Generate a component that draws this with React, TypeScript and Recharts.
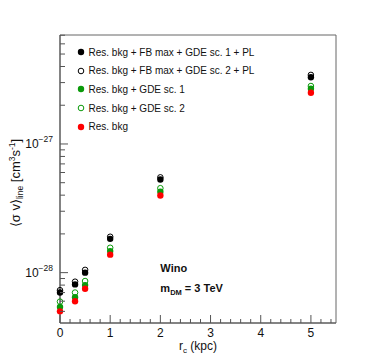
import React from "react";
import {
  ScatterChart,
  Scatter,
  XAxis,
  YAxis,
  ReferenceArea,
  ReferenceDot,
  Legend,
} from "recharts";

const rc = [0, 0.3, 0.5, 1, 2, 5];
const fbGde1PL = [7.0e-29, 8.1e-29, 1.0e-28, 1.83e-28, 5.3e-28, 3.3e-27];
const fbGde2PL = [7.3e-29, 8.5e-29, 1.05e-28, 1.9e-28, 5.5e-28, 3.44e-27];
const gde1 = [5.4e-29, 6.45e-29, 8.0e-29, 1.47e-28, 4.25e-28, 2.69e-27];
const gde2 = [5.95e-29, 7.0e-29, 8.6e-29, 1.56e-28, 4.53e-28, 2.82e-27];
const resBkg = [5.0e-29, 6.0e-29, 7.5e-29, 1.38e-28, 3.98e-28, 2.5e-27];

const seriesNames = [
  "Res. bkg + FB max + GDE sc. 1 + PL",
  "Res. bkg + FB max + GDE sc. 2 + PL",
  "Res. bkg + GDE sc. 1",
  "Res. bkg + GDE sc. 2",
  "Res. bkg",
];

const xTicks = [
  0, 0.2, 0.4, 0.6, 0.8, 1, 1.2, 1.4, 1.6, 1.8, 2, 2.2, 2.4, 2.6, 2.8, 3, 3.2,
  3.4, 3.6, 3.8, 4, 4.2, 4.4, 4.6, 4.8, 5, 5.2, 5.4,
];
const yTicks = [
  5e-29, 6e-29, 7e-29, 8e-29, 9e-29, 1e-28, 2e-28, 3e-28, 4e-28, 5e-28, 6e-28,
  7e-28, 8e-28, 9e-28, 1e-27, 2e-27, 3e-27, 4e-27, 5e-27, 6e-27, 7e-27,
];

const X_DOMAIN: [number, number] = [0, 5.5];
const Y_DOMAIN: [number, number] = [4.06e-29, 7.03e-27];

const FONT = "'Liberation Sans', Arial, Helvetica, sans-serif";
const GREEN = "#0a9a0a";
const RED = "#ff0000";
const BLACK = "#000000";

const toPoints = (vals: number[]) => rc.map((x, i) => ({ x, y: vals[i] }));

const styles = [
  { color: BLACK, filled: true },
  { color: BLACK, filled: false },
  { color: GREEN, filled: true },
  { color: GREEN, filled: false },
  { color: RED, filled: true },
];

const makeShape = (color: string, filled: boolean) => (props: any) => {
  const { cx, cy } = props;
  if (cx == null || cy == null) return null;
  return (
    <circle
      cx={cx}
      cy={cy}
      r={filled ? 3.2 : 2.8}
      fill={filled ? color : "none"}
      stroke={color}
      strokeWidth={filled ? 0 : 1}
    />
  );
};

const XTick = (props: any) => {
  const { x, y, payload } = props;
  const v = payload.value;
  const major = Math.abs(v - Math.round(v)) < 1e-6;
  return (
    <g>
      <line x1={x} y1={y} x2={x} y2={y - (major ? 8 : 4)} stroke="#555" strokeWidth={1} />
      {major && (
        <text x={x} y={y + 14} textAnchor="middle" fontSize={12} fontFamily={FONT} fill="#111">
          {Math.round(v)}
        </text>
      )}
    </g>
  );
};

const YTick = (props: any) => {
  const { x, y, payload } = props;
  const v = payload.value;
  const lg = Math.log10(v);
  const major = Math.abs(lg - Math.round(lg)) < 1e-6;
  return (
    <g>
      <line x1={x} y1={y} x2={x + (major ? 8 : 5)} y2={y} stroke="#555" strokeWidth={1} />
      {major && (
        <text x={x - 7} y={y + 4.5} textAnchor="end" fontFamily={FONT} fill="#111">
          <tspan fontSize={12}>10</tspan>
          <tspan fontSize={8.5} dy={-6}>{`\u2212${Math.abs(Math.round(lg))}`}</tspan>
        </text>
      )}
    </g>
  );
};

const XTitle = (props: any) => {
  const { viewBox } = props;
  const cx = viewBox.x + viewBox.width / 2;
  const y = viewBox.y + 27;
  return (
    <text x={cx} y={y} textAnchor="middle" fontFamily={FONT} fontSize={12} fill="#111">
      <tspan>r</tspan>
      <tspan fontSize={8} dy={3}>c</tspan>
      <tspan dy={-3}> (kpc)</tspan>
    </text>
  );
};

const YTitle = (props: any) => {
  const { viewBox } = props;
  const x = 20;
  const cy = viewBox.y + viewBox.height / 2 + 4;
  return (
    <text
      x={x}
      y={cy}
      transform={`rotate(-90 ${x} ${cy})`}
      textAnchor="middle"
      fontFamily={FONT}
      fontSize={13}
      fill="#111"
    >
      <tspan>{"\u27E8\u03C3 v\u27E9"}</tspan>
      <tspan fontSize={8.5} dy={3}>line</tspan>
      <tspan dy={-3}> [cm</tspan>
      <tspan fontSize={8.5} dy={-5}>3</tspan>
      <tspan dy={5}>s</tspan>
      <tspan fontSize={8.5} dy={-5}>-1</tspan>
      <tspan dy={5}>]</tspan>
    </text>
  );
};

const WinoLabel = (props: any) => {
  const { viewBox } = props;
  const x = viewBox.x + viewBox.width / 2;
  const y = viewBox.y + viewBox.height / 2;
  return (
    <text x={x} y={y + 4} fontFamily={FONT} fontSize={11} fontWeight="bold" fill="#111">
      Wino
    </text>
  );
};

const MassLabel = (props: any) => {
  const { viewBox } = props;
  const x = viewBox.x + viewBox.width / 2;
  const y = viewBox.y + viewBox.height / 2;
  return (
    <text x={x} y={y + 4} fontFamily={FONT} fontSize={11} fontWeight="bold" fill="#111">
      <tspan>m</tspan>
      <tspan fontSize={7.5} dy={3}>DM</tspan>
      <tspan dy={-3}> = 3 TeV</tspan>
    </text>
  );
};

const LegendContent = () => (
  <div style={{ fontFamily: FONT, fontSize: 10, color: "#111" }}>
    {seriesNames.map((name, i) => (
      <div key={name} style={{ display: "flex", alignItems: "center", height: 18.6 }}>
        <svg width={8} height={8} style={{ marginRight: 3.5 }}>
          <circle
            cx={4}
            cy={4}
            r={styles[i].filled ? 3.2 : 2.8}
            fill={styles[i].filled ? styles[i].color : "none"}
            stroke={styles[i].color}
            strokeWidth={styles[i].filled ? 0 : 1}
          />
        </svg>
        <span style={{ whiteSpace: "nowrap" }}>{name}</span>
      </div>
    ))}
  </div>
);

const seriesValues = [fbGde1PL, fbGde2PL, gde1, gde2, resBkg];
const drawOrder = [1, 0, 3, 2, 4];

export default function App() {
  return (
    <div style={{ position: "absolute", left: 0, top: 0 }}>
      <ScatterChart
        width={374}
        height={359}
        margin={{ top: 35, right: 38, bottom: 35, left: 59 }}
      >
        <XAxis
          dataKey="x"
          type="number"
          domain={X_DOMAIN}
          ticks={xTicks}
          interval={0}
          height={1}
          tickSize={0}
          tickMargin={0}
          tick={<XTick />}
          axisLine={{ stroke: "#555" }}
          label={<XTitle />}
        />
        <YAxis
          dataKey="y"
          type="number"
          scale="log"
          domain={Y_DOMAIN}
          ticks={yTicks}
          interval={0}
          width={1}
          tickSize={0}
          tickMargin={0}
          tick={<YTick />}
          axisLine={{ stroke: "#555" }}
          label={<YTitle />}
        />
        <ReferenceArea
          x1={X_DOMAIN[0]}
          x2={X_DOMAIN[1]}
          y1={Y_DOMAIN[0]}
          y2={Y_DOMAIN[1]}
          fill="none"
          stroke="#666"
          strokeWidth={1}
        />
        <Legend
          layout="vertical"
          align="center"
          verticalAlign="middle"
          content={<LegendContent />}
          wrapperStyle={{ position: "absolute", left: 77, top: 43, width: 260 }}
        />
        {drawOrder.map((i) => (
          <Scatter
            key={seriesNames[i]}
            name={seriesNames[i]}
            data={toPoints(seriesValues[i])}
            fill={styles[i].color}
            shape={makeShape(styles[i].color, styles[i].filled)}
            isAnimationActive={false}
          />
        ))}
        <ReferenceDot x={2} y={1.09e-28} r={1} fill="none" stroke="none" label={<WinoLabel />} />
        <ReferenceDot x={2} y={7.6e-29} r={1} fill="none" stroke="none" label={<MassLabel />} />
      </ScatterChart>
    </div>
  );
}
